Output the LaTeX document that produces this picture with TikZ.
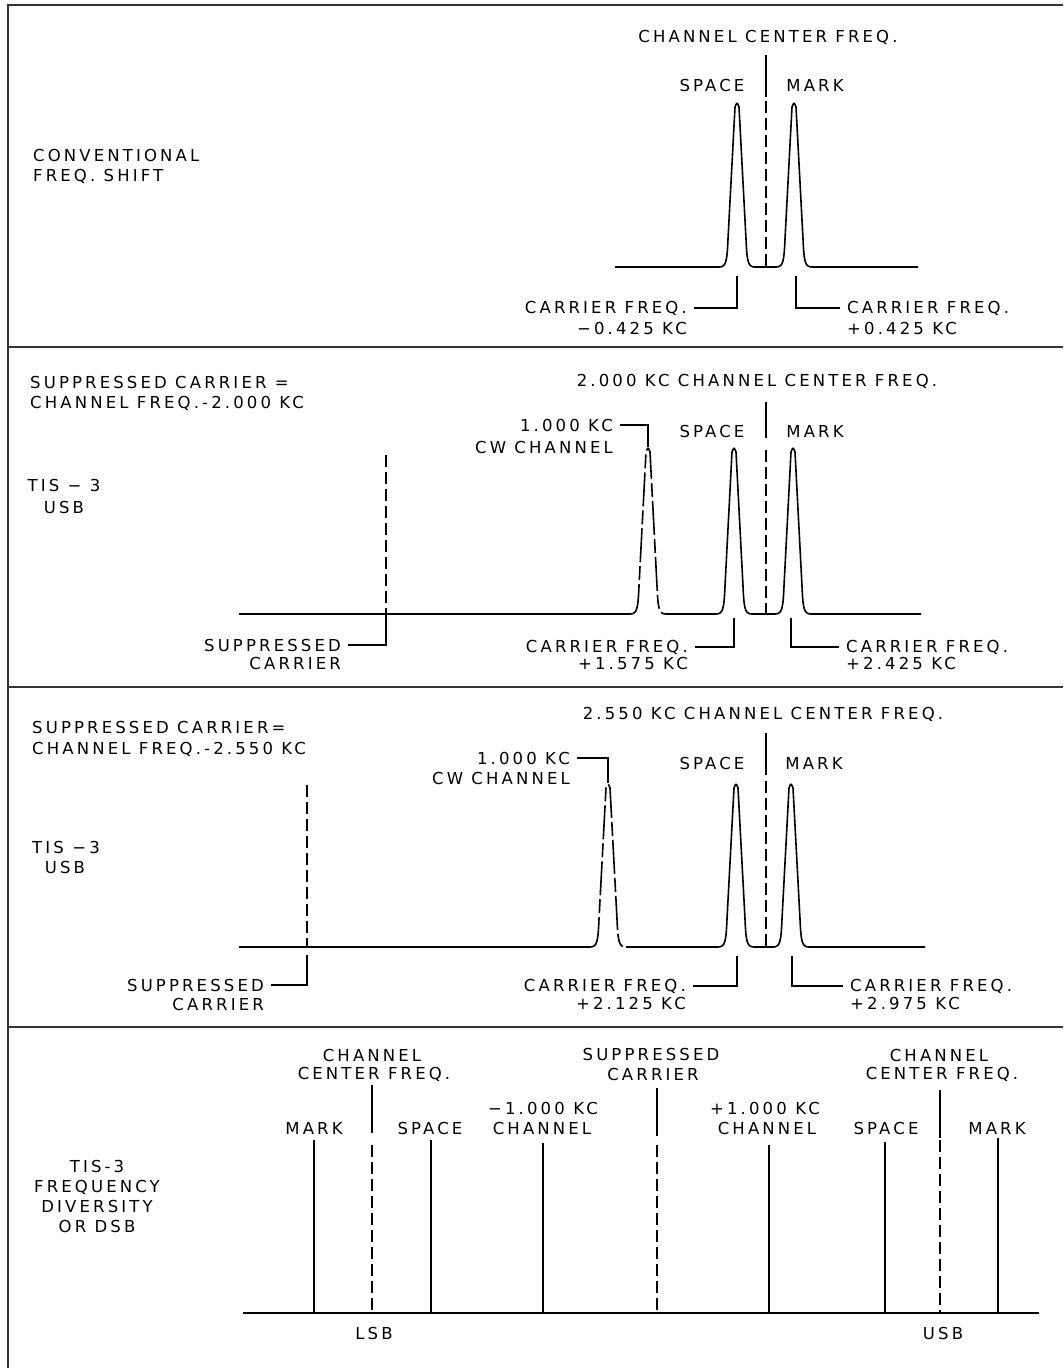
\documentclass[tikz,border=0pt]{standalone}
\usepackage{fontspec}
\newfontfamily\lettering[LetterSpace=19]{DejaVu Sans}
\tikzset{
    lbl/.style={inner sep=0pt, font=\lettering\fontsize{16.5}{20}\selectfont},
    tag/.style={lbl, inner xsep=7pt},
    trace/.style={line width=1.6pt, line join=round},
    carrier/.style={line width=1.6pt, dash pattern=on 12pt off 5pt},
    cwtrace/.style={trace, dash pattern=on 34pt off 4pt on 14pt off 4pt},
    leader/.style={line width=1.3pt},
    frame/.style={line width=2pt, black!80},
}
% one peak on a baseline: centre, apex, base
\newcommand{\peak}[3]{-- ({#1-18},#3) .. controls ({#1-11},#3) and ({#1-10},{#3-5}) .. ({#1-9},{#3-28}) -- ({#1-2},{#2+5}) .. controls (#1,#2) .. ({#1+2},{#2+5}) -- ({#1+9},{#3-28}) .. controls ({#1+10},{#3-5}) and ({#1+11},#3) .. ({#1+18},#3)}

\begin{document}
\begin{tikzpicture}[x=1pt,y=-1pt]
\useasboundingbox (0,0) rectangle (1063,1368);

% frame and panel dividers
\draw[frame] (8,1368) -- (8,5) -- (1063,5);
\foreach \y in {347,687,1027}
  \draw[frame] (8,\y) -- (1063,\y);

% Panel 1: conventional freq. shift
\node[lbl, anchor=base west] (conv) at (33,161) {CONVENTIONAL};
\node[lbl, anchor=base west] (conv2) at (33,181) {FREQ. SHIFT};
\node[lbl, anchor=base] (ccf1) at (768,42) {CHANNEL CENTER FREQ.};
\node[lbl, anchor=base] (sp1t) at (712,91) {SPACE};
\node[lbl, anchor=base] (mk1t) at (815,91) {MARK};
\draw[trace] (766,55) -- (766,97);
\draw[carrier] (766,101) -- (766,267);
\draw[trace] (615,267) \peak{737}{102}{267} \peak{794}{102}{267} -- (918,267);
\coordinate (sp1) at (737,276);
\coordinate (mk1) at (796,276);
\node[tag, anchor=base east] (cf1a) at (694,313) {CARRIER FREQ.};
\node[tag, anchor=base east] (cf1b) at (694,334) {−0.425 KC};
\node[tag, anchor=base west] (cf1c) at (840,313) {CARRIER FREQ.};
\node[tag, anchor=base west] (cf1d) at (840,334) {+0.425 KC};
\draw[leader] (sp1) |- (cf1a.east);
\draw[leader] (mk1) |- (cf1c.west);

% Panel 2: TIS-3 USB, 2.000 KC
\node[lbl, anchor=base west] (sc2a) at (30,388) {SUPPRESSED CARRIER =};
\node[lbl, anchor=base west] (sc2b) at (30,408) {CHANNEL FREQ.-2.000 KC};
\node[lbl, anchor=base] (tis2) at (64,491) {TIS − 3};
\node[lbl, anchor=base] (usb2) at (64,513) {USB};
\node[lbl, anchor=base] (ccf2) at (757,386) {2.000 KC CHANNEL CENTER FREQ.};
\node[lbl, anchor=base] (sp2t) at (712,437) {SPACE};
\node[lbl, anchor=base] (mk2t) at (815,437) {MARK};
\draw[trace] (766,402) -- (766,438);
\draw[carrier] (766,450) -- (766,614);
\draw[carrier] (386,455) -- (386,614);
\draw[trace] (239,614) -- (630,614);
\draw[cwtrace] (630,614) \peak{648}{447}{614};
\draw[trace] (666,614) \peak{734}{447}{614} \peak{793}{447}{614} -- (921,614);
\coordinate (cw2) at (648,447);
\coordinate (sup2) at (386,614);
\coordinate (sp2) at (734,618);
\coordinate (mk2) at (791,618);
\node[tag, anchor=base east] (cw2a) at (620,431) {1.000 KC};
\node[tag, anchor=base east] (cw2b) at (620,453) {CW CHANNEL};
\node[tag, anchor=base east] (sup2a) at (348,651) {SUPPRESSED};
\node[tag, anchor=base east] (sup2b) at (348,669) {CARRIER};
\node[tag, anchor=base east] (cf2a) at (695,652) {CARRIER FREQ.};
\node[tag, anchor=base east] (cf2b) at (695,669) {+1.575 KC};
\node[tag, anchor=base west] (cf2c) at (839,652) {CARRIER FREQ.};
\node[tag, anchor=base west] (cf2d) at (839,669) {+2.425 KC};
\draw[leader] (cw2) |- (cw2a.east);
\draw[leader] (sup2) |- (sup2a.east);
\draw[leader] (sp2) |- (cf2a.east);
\draw[leader] (mk2) |- (cf2c.west);

% Panel 3: TIS-3 USB, 2.550 KC
\node[lbl, anchor=base west] (sc3a) at (32,733) {SUPPRESSED CARRIER=};
\node[lbl, anchor=base west] (sc3b) at (32,754) {CHANNEL FREQ.-2.550 KC};
\node[lbl, anchor=base] (tis3) at (66,853) {TIS −3};
\node[lbl, anchor=base] (usb3) at (65,873) {USB};
\node[lbl, anchor=base] (ccf3) at (763,719) {2.550 KC CHANNEL CENTER FREQ.};
\node[lbl, anchor=base] (sp3t) at (712,769) {SPACE};
\node[lbl, anchor=base] (mk3t) at (814,769) {MARK};
\draw[trace] (766,733) -- (766,775);
\draw[carrier] (766,781) -- (766,947);
\draw[carrier] (307,785) -- (307,947);
\draw[trace] (239,947) -- (590,947);
\draw[cwtrace] (590,947) \peak{608}{783}{947};
\draw[trace] (626,947) \peak{736}{783}{947} \peak{791}{783}{947} -- (925,947);
\coordinate (cw3) at (608,783);
\coordinate (sup3) at (307,955);
\coordinate (sp3) at (737,956);
\coordinate (mk3) at (792,956);
\node[tag, anchor=base east] (cw3a) at (577,764) {1.000 KC};
\node[tag, anchor=base east] (cw3b) at (577,784) {CW CHANNEL};
\node[tag, anchor=base east] (sup3a) at (271,991) {SUPPRESSED};
\node[tag, anchor=base east] (sup3b) at (271,1010) {CARRIER};
\node[tag, anchor=base east] (cf3a) at (693,991) {CARRIER FREQ.};
\node[tag, anchor=base east] (cf3b) at (693,1009) {+2.125 KC};
\node[tag, anchor=base west] (cf3c) at (843,991) {CARRIER FREQ.};
\node[tag, anchor=base west] (cf3d) at (843,1009) {+2.975 KC};
\draw[leader] (cw3) |- (cw3a.east);
\draw[leader] (sup3) |- (sup3a.east);
\draw[leader] (sp3) |- (cf3a.east);
\draw[leader] (mk3) |- (cf3c.west);

% Panel 4: frequency diversity or DSB
\node[lbl, align=center] (div) at (97,1196) {TIS-3\\FREQUENCY\\DIVERSITY\\OR DSB};
\draw[trace] (243,1313) -- (1039,1313);
\foreach \x/\top in {314/1140, 431/1140, 543/1143, 769/1145, 885/1142, 998/1138}
  \draw[trace] (\x,\top) -- (\x,1313);
\foreach \x/\top/\gap in {372/1085/1145, 657/1088/1145, 940/1090/1140}{
  \draw[trace] (\x,\top) -- (\x,{\top+48});
  \draw[carrier] (\x,\gap) -- (\x,1313);
}
\node[lbl, anchor=base] (cl1) at (372,1061) {CHANNEL};
\node[lbl, anchor=base] (cl2) at (374,1079) {CENTER FREQ.};
\node[lbl, anchor=base] (mkl) at (314,1134) {MARK};
\node[lbl, anchor=base] (spl) at (430,1134) {SPACE};
\node[lbl, anchor=base] (lcw1) at (543,1114) {−1.000 KC};
\node[lbl, anchor=base] (lcw2) at (542,1134) {CHANNEL};
\node[lbl, anchor=base] (sup4a) at (651,1060) {SUPPRESSED};
\node[lbl, anchor=base] (sup4b) at (653,1080) {CARRIER};
\node[lbl, anchor=base] (ucw1) at (765,1114) {+1.000 KC};
\node[lbl, anchor=base] (ucw2) at (767,1134) {CHANNEL};
\node[lbl, anchor=base] (cu1) at (939,1061) {CHANNEL};
\node[lbl, anchor=base] (cu2) at (942,1079) {CENTER FREQ.};
\node[lbl, anchor=base] (spu) at (886,1134) {SPACE};
\node[lbl, anchor=base] (mku) at (997,1134) {MARK};
\node[lbl, anchor=base] (lsb) at (374,1339) {LSB};
\node[lbl, anchor=base] (usb4) at (943,1339) {USB};
\end{tikzpicture}
\end{document}
